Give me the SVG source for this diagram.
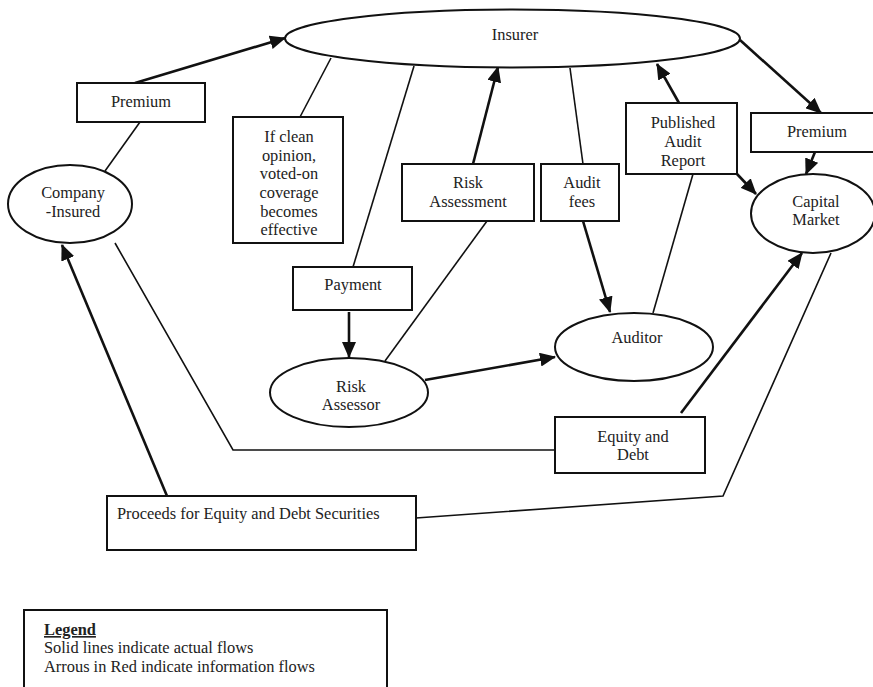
<svg xmlns="http://www.w3.org/2000/svg" width="873" height="687" viewBox="0 0 873 687">
<style>
.shape{fill:#fff;stroke:#111;stroke-width:2}
.t{font-family:"Liberation Serif","Times New Roman",serif;font-size:16.4px;fill:#222;text-anchor:middle}
.tl{text-anchor:start}
.thin{fill:none;stroke:#111;stroke-width:1.6}
.arr{fill:none;stroke:#111;stroke-width:2.6;marker-end:url(#ah)}
</style>
<defs>
<marker id="ah" markerUnits="userSpaceOnUse" markerWidth="16" markerHeight="14" refX="15" refY="7" orient="auto">
<path d="M0,0 L16,7 L0,14 z" fill="#111"/>
</marker>
</defs>
<rect width="873" height="687" fill="#fff"/>
<g id="connectors">
<line class="arr" x1="135" y1="83" x2="285" y2="38"/>
<line class="thin" x1="140" y1="122" x2="105" y2="171"/>
<line class="thin" x1="300" y1="117" x2="331" y2="58"/>
<line class="thin" x1="414" y1="66" x2="353" y2="267"/>
<line class="arr" x1="349" y1="312" x2="349" y2="357"/>
<line class="thin" x1="385" y1="361" x2="487" y2="221"/>
<line class="arr" x1="473" y1="164" x2="498" y2="67"/>
<line class="thin" x1="570" y1="68" x2="583" y2="164"/>
<line class="arr" x1="583" y1="221" x2="610" y2="312"/>
<line class="arr" x1="425" y1="380" x2="555" y2="357"/>
<line class="thin" x1="653" y1="313" x2="693" y2="174"/>
<line class="arr" x1="679" y1="103" x2="657" y2="64"/>
<line class="arr" x1="737" y1="174" x2="756" y2="194"/>
<line class="arr" x1="740" y1="40" x2="821" y2="113"/>
<line class="arr" x1="815" y1="152" x2="806" y2="174"/>
<line class="arr" x1="681" y1="413" x2="802" y2="253"/>
<polyline class="thin" points="115,243 233,450 555,450"/>
<polyline class="thin" points="831,253 723,496 416,518"/>
<line class="arr" x1="167" y1="496" x2="62" y2="245"/>
</g>
<g id="insurer">
<ellipse class="shape" cx="512.5" cy="38.5" rx="227.5" ry="29"/>
<text class="t" x="515" y="40">Insurer</text>
</g>
<g id="premium-left">
<rect class="shape" x="77" y="83" width="128" height="39"/>
<text class="t" x="141" y="107">Premium</text>
</g>
<g id="company-insured">
<ellipse class="shape" cx="70" cy="204" rx="62" ry="39"/>
<text class="t" x="73" y="198">Company</text>
<text class="t" x="73" y="217">-Insured</text>
</g>
<g id="clean-opinion">
<rect class="shape" x="233" y="117" width="110" height="126"/>
<text class="t" x="289" y="142">If clean</text>
<text class="t" x="289" y="161">opinion,</text>
<text class="t" x="289" y="179">voted-on</text>
<text class="t" x="289" y="198">coverage</text>
<text class="t" x="289" y="217">becomes</text>
<text class="t" x="289" y="235">effective</text>
</g>
<g id="payment">
<rect class="shape" x="293" y="267" width="119" height="43"/>
<text class="t" x="353" y="290">Payment</text>
</g>
<g id="risk-assessor">
<ellipse class="shape" cx="349" cy="392.5" rx="79" ry="34.5"/>
<text class="t" x="351" y="392">Risk</text>
<text class="t" x="351" y="410">Assessor</text>
</g>
<g id="risk-assessment">
<rect class="shape" x="402" y="164" width="132" height="57"/>
<text class="t" x="468" y="188">Risk</text>
<text class="t" x="468" y="207">Assessment</text>
</g>
<g id="audit-fees">
<rect class="shape" x="541" y="164" width="78" height="57"/>
<text class="t" x="582" y="188">Audit</text>
<text class="t" x="582" y="207">fees</text>
</g>
<g id="auditor">
<ellipse class="shape" cx="634" cy="347" rx="79" ry="34"/>
<text class="t" x="637" y="343">Auditor</text>
</g>
<g id="published-audit-report">
<rect class="shape" x="626" y="103" width="111" height="71"/>
<text class="t" x="683" y="128">Published</text>
<text class="t" x="683" y="147">Audit</text>
<text class="t" x="683" y="166">Report</text>
</g>
<g id="premium-right">
<rect class="shape" x="751" y="113" width="132" height="39"/>
<text class="t" x="817" y="137">Premium</text>
</g>
<g id="capital-market">
<ellipse class="shape" cx="813" cy="213.5" rx="62" ry="39.5"/>
<text class="t" x="816" y="207">Capital</text>
<text class="t" x="816" y="225">Market</text>
</g>
<g id="equity-debt">
<rect class="shape" x="555" y="417" width="150" height="56"/>
<text class="t" x="633" y="442">Equity and</text>
<text class="t" x="633" y="460">Debt</text>
</g>
<g id="proceeds">
<rect class="shape" x="107" y="496" width="309" height="54"/>
<text class="t tl" x="117" y="519">Proceeds for Equity and Debt Securities</text>
</g>
<g id="legend">
<rect class="shape" x="24" y="610" width="363" height="90"/>
<text class="t tl" x="44" y="635" font-weight="bold" text-decoration="underline">Legend</text>
<text class="t tl" x="44" y="653">Solid lines indicate actual flows</text>
<text class="t tl" x="44" y="672">Arrous in Red indicate information flows</text>
</g>
</svg>
